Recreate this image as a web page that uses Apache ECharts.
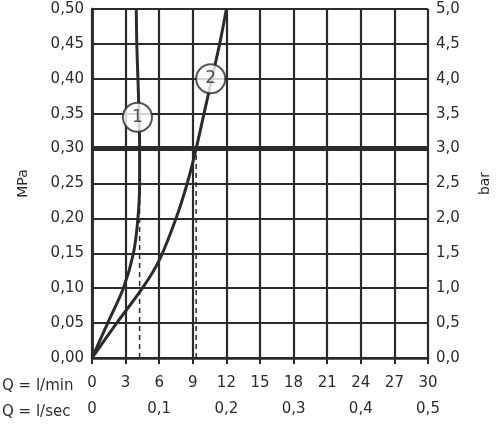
<!DOCTYPE html><html><head><meta charset="utf-8"><script src="https://cdn.jsdelivr.net/npm/echarts@6/dist/echarts.min.js"></script></head><body style="margin:0"><div id="c" style="width:500px;height:430px"></div><script>
const curve1 = [[0,0],[1.4,0.05],[2.8,0.10],[3.7,0.15],[4.1,0.2],[4.25,0.25],[4.25,0.3],[4.2,0.35],[4.1,0.4],[4.0,0.45],[3.95,0.5]];
const curve2 = [[0,0],[2.2,0.05],[4.5,0.1],[6,0.14],[7.5,0.2],[8.5,0.25],[9.3,0.3],[10,0.35],[10.7,0.4],[11.4,0.45],[12,0.5]];
const refPressure = 0.3;
const dashX = [4.25, 9.3];
const markers = [{name:'1', value:[4.06,0.345]},{name:'2', value:[10.6,0.4]}];
const col = '#2b2b2b';
const f = 'DejaVu Sans';
const chart = echarts.init(document.getElementById('c'));
const dashSeries = dashX.map(x=>({type:'line',xAxisIndex:0,yAxisIndex:0,data:[[x,0],[x,refPressure]],symbol:'none',lineStyle:{color:col,width:1.5,type:[5,4]},z:3}));
chart.setOption({
 animation:false,
 grid:{left:92,right:68,top:9,bottom:72},
 xAxis:[{type:'value',min:0,max:30,interval:3,position:'bottom',
   axisLine:{lineStyle:{color:col,width:2.5}},axisTick:{show:true,length:6,lineStyle:{color:col,width:2}},
   splitLine:{lineStyle:{color:col,width:2.2}},axisLabel:{color:col,fontSize:15,fontFamily:f,margin:18}},
  {type:'value',min:0,max:0.5,interval:0.1,position:'bottom',offset:26,axisLine:{show:false},axisTick:{show:false},splitLine:{show:false},
   axisLabel:{color:col,fontSize:15,fontFamily:f,margin:18,formatter:v=>v===0?'0':v.toFixed(1).replace('.',',')}}],
 yAxis:[{type:'value',min:0,max:0.5,interval:0.05,name:'MPa',nameLocation:'middle',nameGap:62,nameTextStyle:{color:col,fontSize:14,fontFamily:f},
   axisLine:{lineStyle:{color:col,width:2.5}},axisTick:{show:false},splitLine:{lineStyle:{color:col,width:2.2}},
   axisLabel:{color:col,fontSize:15,fontFamily:f,formatter:v=>v.toFixed(2).replace('.',',')}},
  {type:'value',min:0,max:5,interval:0.5,position:'right',name:'bar',nameLocation:'middle',nameGap:50,nameRotate:90,nameTextStyle:{color:col,fontSize:14,fontFamily:f},
   axisLine:{show:true,lineStyle:{color:col,width:2.5}},axisTick:{show:false},splitLine:{show:false},
   axisLabel:{color:col,fontSize:15,fontFamily:f,formatter:v=>v.toFixed(1).replace('.',',')}}],
 graphic:[{type:'text',left:2,top:379,style:{text:'Q = l/min',fill:col,font:'15px '+f}},
  {type:'text',left:2,top:405,style:{text:'Q = l/sec',fill:col,font:'15px '+f}}],
 series:[
  {type:'line',data:curve1,symbol:'none',smooth:0.3,lineStyle:{color:col,width:3},z:4},
  {type:'line',data:curve2,symbol:'none',smooth:0.3,lineStyle:{color:col,width:3},z:4},
  {type:'line',data:[[0,refPressure],[30,refPressure]],symbol:'none',lineStyle:{color:col,width:5},z:5},
  ...dashSeries,
  {type:'scatter',data:markers,symbolSize:29,itemStyle:{color:'#fff',borderColor:col,borderWidth:2},z:6,
   label:{show:true,position:'inside',formatter:p=>p.name,color:col,fontSize:17,fontFamily:f}}
 ]
});
</script></body></html>
